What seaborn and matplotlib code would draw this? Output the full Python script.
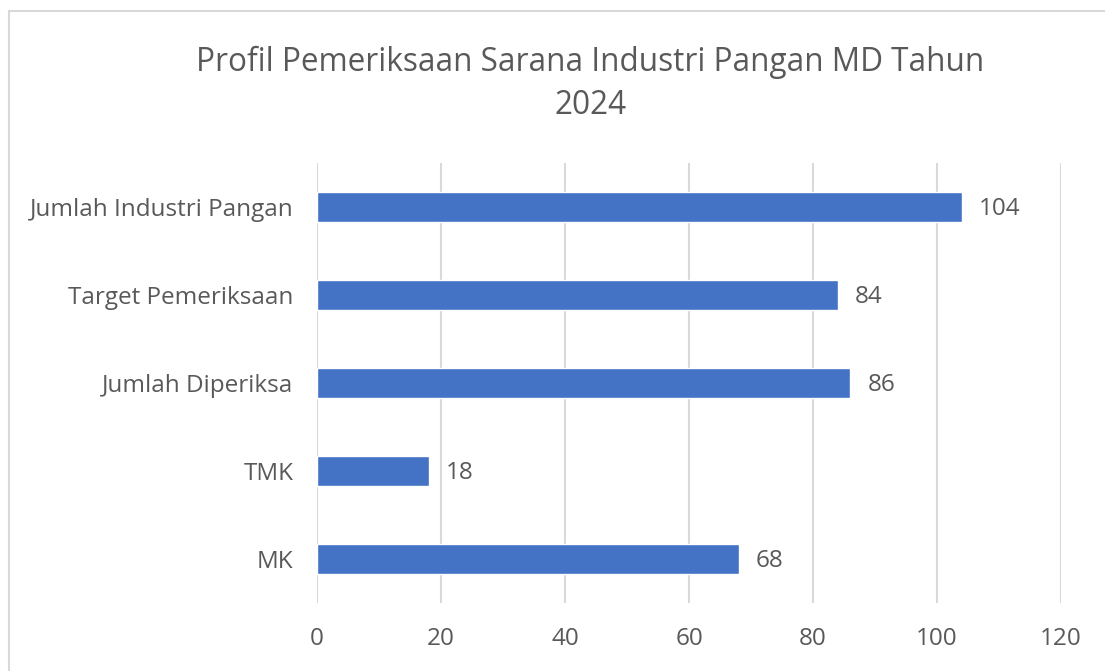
import matplotlib
matplotlib.use("Agg")
import matplotlib.pyplot as plt
import seaborn as sns
import pandas as pd
from matplotlib.patches import Rectangle

categories = ["Jumlah Industri Pangan", "Target Pemeriksaan", "Jumlah Diperiksa", "TMK", "MK"]
values = [104, 84, 86, 18, 68]
x_ticks = [0, 20, 40, 60, 80, 100, 120]
title = "Profil Pemeriksaan Sarana Industri Pangan MD Tahun\n2024"

sns.set_theme(style="white")
plt.rcParams['font.family'] = ['Open Sans', 'DejaVu Sans']
TXT = "#595959"

df = pd.DataFrame({"cat": categories, "val": values})

fig = plt.figure(figsize=(11.05, 6.71), dpi=100)
ax = fig.add_axes([0.2869, 0.1013, 0.9602 - 0.2869, 0.7571 - 0.1013])
sns.barplot(data=df, x="val", y="cat", orient="h", color="#4472C4",
            width=0.34, saturation=1, ax=ax, zorder=3)

ax.set_xlim(0, 120)
ax.set_xticks(x_ticks)
ax.set_xlabel("")
ax.set_ylabel("")
ax.grid(axis="x", color="#d9d9d9", linewidth=1.5, zorder=0)
ax.grid(axis="y", visible=False)
for s in ax.spines.values():
    s.set_visible(False)
ax.tick_params(axis="both", length=0, labelsize=17.5, colors=TXT)
ax.tick_params(axis="y", pad=17)
ax.tick_params(axis="x", pad=17)

for i, v in enumerate(values):
    ax.text(v + 2.8, i + 0.02, str(v), va="center", ha="left", fontsize=17.5, color=TXT)

fig.text(0.534, 0.8755, title, ha="center", va="center", fontsize=22.7,
         color=TXT, linespacing=1.4)

fig.patches.append(Rectangle((9 / 1105, -0.05), 1.2, 1 - 11 / 671 + 0.05,
                             transform=fig.transFigure, fill=False,
                             edgecolor="#d9d9d9", linewidth=1.5))

fig.savefig("out.png", dpi=100, facecolor="white")
